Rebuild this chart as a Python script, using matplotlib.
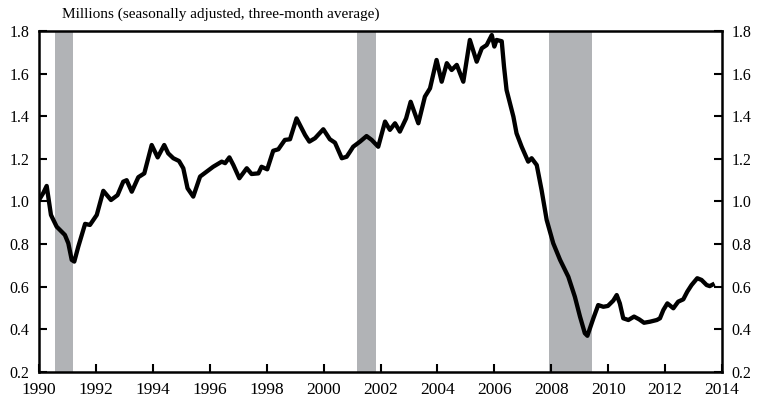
import matplotlib
matplotlib.use("Agg")
import matplotlib.pyplot as plt

years = [1990.00, 1990.15, 1990.27, 1990.42, 1990.62, 1990.91, 1991.03, 1991.15, 1991.24, 1991.38,
         1991.62, 1991.79, 1992.03, 1992.26, 1992.53, 1992.76, 1992.96, 1993.08, 1993.26, 1993.49,
         1993.70, 1993.96, 1994.17, 1994.40, 1994.54, 1994.72, 1994.92, 1995.07, 1995.22, 1995.42,
         1995.66, 1995.89, 1996.12, 1996.42, 1996.54, 1996.69, 1996.83, 1997.04, 1997.30, 1997.47,
         1997.71, 1997.82, 1998.02, 1998.23, 1998.41, 1998.64, 1998.82, 1999.05, 1999.35, 1999.50,
         1999.70, 1999.99, 2000.22, 2000.40, 2000.64, 2000.81, 2000.93, 2001.04, 2001.28, 2001.51,
         2001.69, 2001.92, 2002.16, 2002.33, 2002.51, 2002.68, 2002.90, 2003.06, 2003.33, 2003.56,
         2003.74, 2003.97, 2004.15, 2004.33, 2004.50, 2004.68, 2004.91, 2005.14, 2005.38, 2005.56,
         2005.73, 2005.91, 2006.00, 2006.08, 2006.26, 2006.34, 2006.43, 2006.67, 2006.78, 2006.96,
         2007.19, 2007.31, 2007.49, 2007.66, 2007.84, 2008.07, 2008.31, 2008.60, 2008.83, 2009.01,
         2009.18, 2009.27, 2009.48, 2009.65, 2009.83, 2009.99, 2010.18, 2010.30, 2010.41, 2010.53,
         2010.71, 2010.91, 2011.09, 2011.26, 2011.47, 2011.71, 2011.82, 2011.94, 2012.08, 2012.29,
         2012.46, 2012.64, 2012.78, 2012.93, 2013.13, 2013.28, 2013.46, 2013.57, 2013.67]

starts = [1.007, 1.040, 1.073, 0.937, 0.882, 0.843, 0.804, 0.726, 0.718, 0.788,
          0.895, 0.890, 0.937, 1.050, 1.007, 1.030, 1.093, 1.100, 1.046, 1.114,
          1.132, 1.265, 1.207, 1.265, 1.226, 1.203, 1.190, 1.156, 1.062, 1.023,
          1.117, 1.140, 1.163, 1.187, 1.180, 1.207, 1.171, 1.109, 1.156, 1.129,
          1.132, 1.163, 1.151, 1.238, 1.245, 1.289, 1.292, 1.390, 1.312, 1.281,
          1.297, 1.339, 1.292, 1.276, 1.203, 1.210, 1.234, 1.257, 1.281, 1.307,
          1.289, 1.257, 1.375, 1.336, 1.367, 1.328, 1.390, 1.468, 1.367, 1.492,
          1.531, 1.664, 1.562, 1.649, 1.617, 1.641, 1.562, 1.758, 1.656, 1.719,
          1.734, 1.781, 1.727, 1.758, 1.752, 1.633, 1.523, 1.398, 1.320, 1.257,
          1.187, 1.203, 1.171, 1.054, 0.913, 0.804, 0.726, 0.647, 0.553, 0.460,
          0.382, 0.370, 0.452, 0.514, 0.506, 0.510, 0.535, 0.561, 0.522, 0.452,
          0.444, 0.460, 0.447, 0.431, 0.436, 0.444, 0.452, 0.491, 0.522, 0.499,
          0.530, 0.541, 0.577, 0.608, 0.640, 0.632, 0.608, 0.603, 0.610]

recession_start = [1990.55, 2001.17, 2007.92]
recession_end = [1991.19, 2001.84, 2009.42]

xticks = list(range(1990, 2015, 2))
yticks = [0.2, 0.4, 0.6, 0.8, 1.0, 1.2, 1.4, 1.6, 1.8]

plt.rcParams['font.family'] = ['Liberation Serif', 'DejaVu Serif']

fig = plt.figure(figsize=(7.62, 4.0), dpi=100)
ax = fig.add_axes([39/762, 28/400, 683/762, 341/400])

for s, e in zip(recession_start, recession_end):
    ax.axvspan(s, e, color='#b1b3b6', lw=0, zorder=1)

ax.plot(years, starts, color='black', lw=3.1, solid_joinstyle='round', zorder=3)

ax.set_xlim(1990, 2014)
ax.set_ylim(0.2, 1.8)
ax.set_xticks(xticks)
ax.set_xticklabels([str(y) for y in xticks])
ax.set_yticks(yticks)
ax.set_yticklabels([f"{v:.1f}" for v in yticks])

for sp in ax.spines.values():
    sp.set_linewidth(1.8)

ax.tick_params(axis='x', direction='in', length=6, width=1.5, labelsize=12.5, pad=7, top=False)
ax.tick_params(axis='y', direction='in', length=6, width=1.5, labelsize=11.5, pad=7,
               left=True, right=True, labelleft=True, labelright=True)

fig.text(62/762, 1 - 14/400, "Millions (seasonally adjusted, three-month average)",
         fontsize=11, ha='left', va='center')

fig.savefig("out.png", dpi=100)
